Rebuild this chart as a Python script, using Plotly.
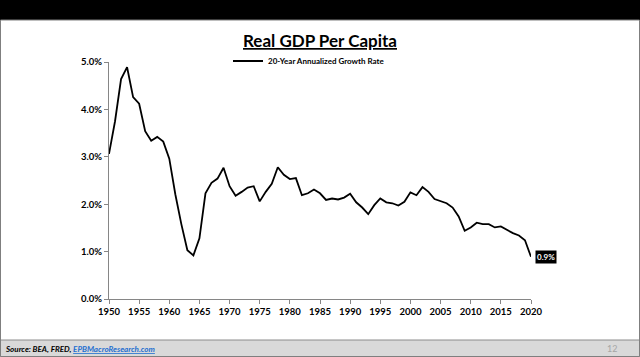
import plotly.graph_objects as go

years = list(range(1950, 2021))
growth_rate = [
    3.06, 3.75, 4.64, 4.89, 4.26, 4.12, 3.54, 3.34, 3.42, 3.32,
    2.96, 2.21, 1.58, 1.03, 0.92, 1.28, 2.23, 2.45, 2.54, 2.77,
    2.38, 2.18, 2.26, 2.35, 2.38, 2.06, 2.26, 2.43, 2.78, 2.62,
    2.53, 2.55, 2.19, 2.23, 2.31, 2.23, 2.09, 2.12, 2.10, 2.14,
    2.22, 2.04, 1.93, 1.79, 1.98, 2.12, 2.04, 2.02, 1.97, 2.05,
    2.25, 2.19, 2.36, 2.26, 2.11, 2.07, 2.02, 1.93, 1.74, 1.44,
    1.51, 1.61, 1.58, 1.58, 1.51, 1.53, 1.46, 1.39, 1.34, 1.24,
    0.89,
]
series_name = "20-Year Annualized Growth Rate"
title_text = "Real GDP Per Capita"
last_label = "0.9%"
source_text = "Source: BEA, FRED, "
source_link = "EPBMacroResearch.com"
page_number = "12"

W, H = 640, 357
L, R, T, B = 109, 531, 62, 299
FONT = "Lato"


def px(x):
    return (x - L) / (R - L)


def py(y):
    return (B - y) / (B - T)


fig = go.Figure()
fig.add_trace(go.Scatter(
    x=years, y=growth_rate, mode="lines", name=series_name,
    line=dict(color="black", width=1.8),
))

shapes = [
    # top black bar
    dict(type="rect", xref="paper", yref="paper", x0=px(-2), x1=px(W + 2),
         y0=py(20), y1=py(-2), fillcolor="black", line=dict(width=0), layer="below"),
    # footer band
    dict(type="rect", xref="paper", yref="paper", x0=px(0.5), x1=px(639.5),
         y0=py(356.5), y1=py(340), fillcolor="#d9d9d9",
         line=dict(color="#8c8c8c", width=1), layer="below"),
    # panel border
    dict(type="rect", xref="paper", yref="paper", x0=px(0.5), x1=px(639.5),
         y0=py(356.5), y1=py(20), fillcolor="rgba(0,0,0,0)",
         line=dict(color="#7f7f7f", width=1), layer="below"),
]

annotations = [
    dict(xref="paper", yref="paper", x=px(320), y=py(40), xanchor="center", yanchor="middle",
         text=f"<b><u>{title_text}</u></b>", showarrow=False,
         font=dict(family=FONT, size=17, color="black")),
    dict(x=years[-1], y=growth_rate[-1], xref="x", yref="y", xanchor="left", yanchor="middle",
         xshift=4, text=f"<b>{last_label}</b>", showarrow=False, bgcolor="black",
         borderpad=1, font=dict(family=FONT, size=8, color="white")),
    dict(xref="paper", yref="paper", x=px(3), y=py(348.5), xanchor="left", yanchor="middle",
         text=f"<b><i>{source_text}<span style='color:#1f6fd0'><u>{source_link}</u></span></i></b>",
         showarrow=False, font=dict(family=FONT, size=8, color="black")),
    dict(xref="paper", yref="paper", x=px(619), y=py(348), xanchor="right", yanchor="middle",
         text=page_number, showarrow=False, font=dict(family=FONT, size=9, color="#a6a6a6")),
]

fig.update_layout(
    width=W, height=H,
    margin=dict(l=L, r=W - R, t=T, b=H - B),
    paper_bgcolor="white", plot_bgcolor="white",
    showlegend=True,
    legend=dict(x=px(228), y=py(61), xanchor="left", yanchor="middle",
                orientation="h", itemwidth=30, bgcolor="rgba(0,0,0,0)",
                font=dict(family=FONT, size=8, color="black", weight="bold")),
    shapes=shapes, annotations=annotations,
    xaxis=dict(range=[1950, 2020], tick0=1950, dtick=5, showgrid=False, zeroline=False,
               showline=True, linecolor="#868686", linewidth=1,
               ticks="outside", ticklen=4, tickcolor="#868686",
               tickfont=dict(family=FONT, size=9.5, color="black", weight="bold")),
    yaxis=dict(range=[0, 5], dtick=1, tickformat=".1f", ticksuffix="%",
               showgrid=False, zeroline=False,
               showline=True, linecolor="#868686", linewidth=1,
               ticks="outside", ticklen=4, tickcolor="#868686",
               tickfont=dict(family=FONT, size=9.5, color="black", weight="bold")),
)

fig.write_html(
    "out.html",
    config={"displayModeBar": False},
    post_script="document.body.style.margin='0';document.body.style.overflow='hidden';",
)
